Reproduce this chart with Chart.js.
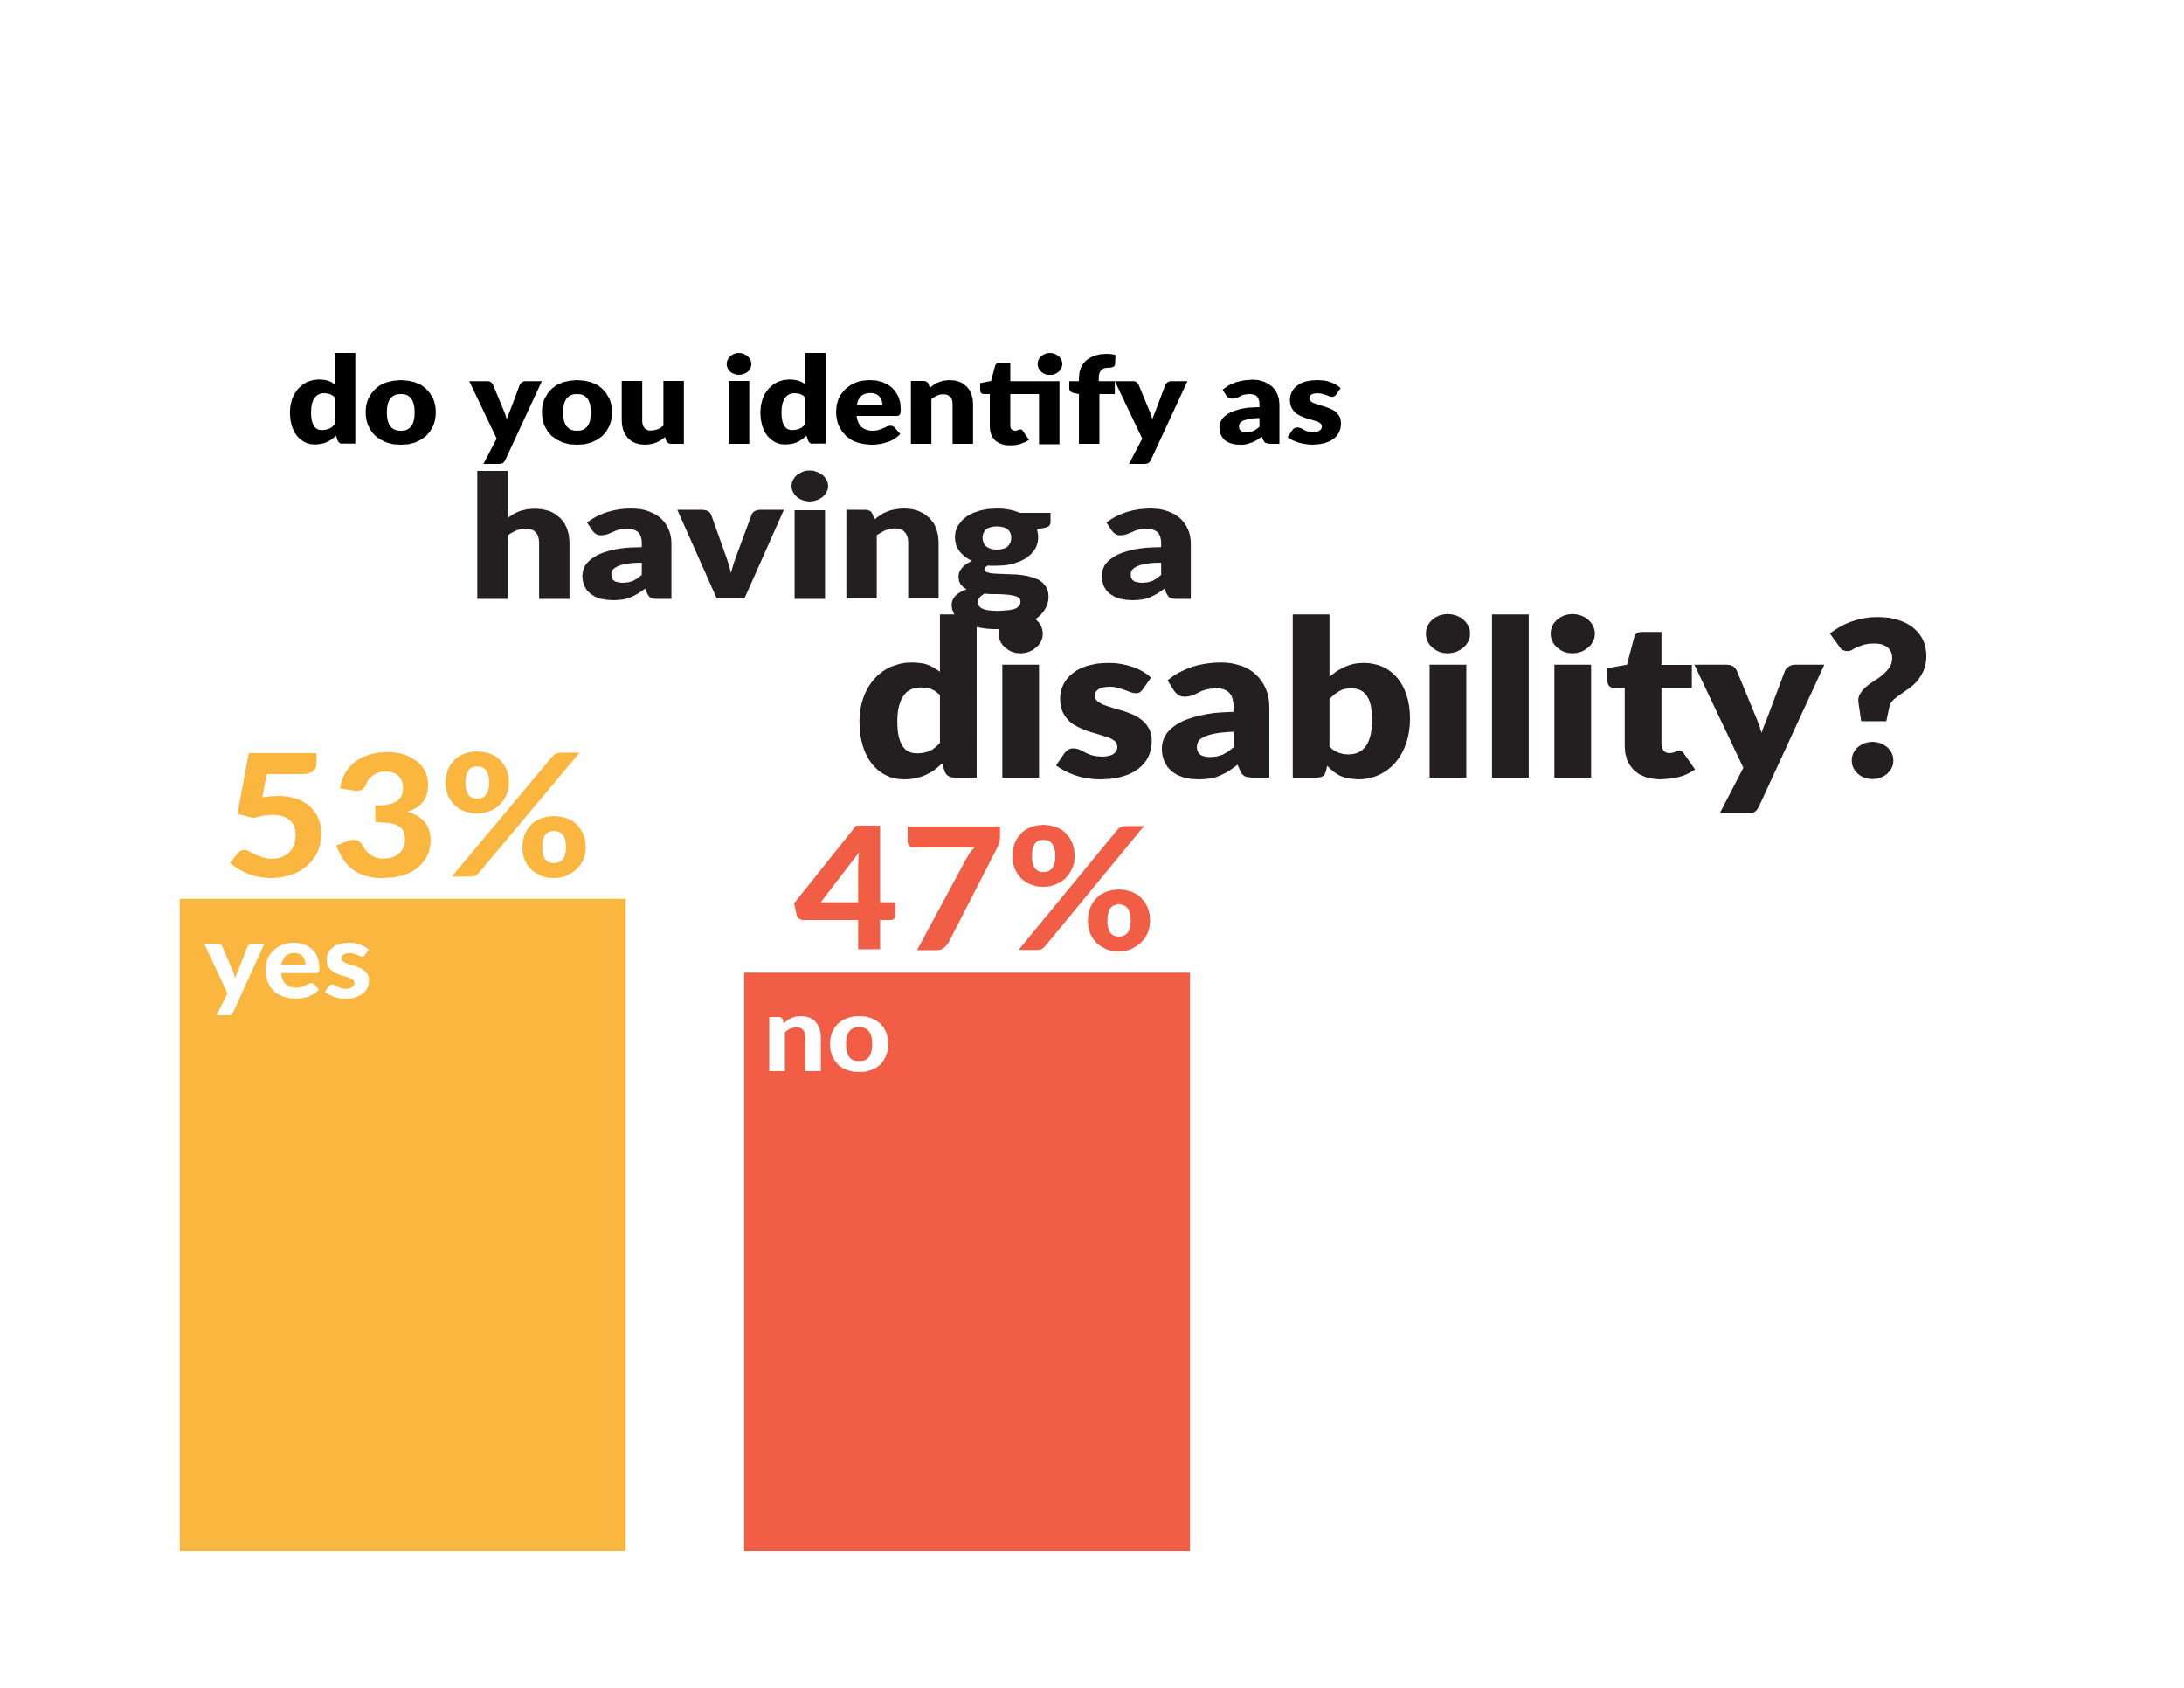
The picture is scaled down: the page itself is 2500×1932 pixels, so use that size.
<!DOCTYPE html>
<html>
<head>
<meta charset="utf-8">
<title>do you identify as having a disability?</title>
<script src="https://cdn.jsdelivr.net/npm/chart.js@4"></script>
<style>
    html, body { margin: 0; padding: 0; background: #fff; }
    #wrap { position: relative; width: 2500px; height: 1932px; }
</style>
</head>
<body>
<div id="wrap"><canvas id="chart"></canvas></div>
<script>
// data
const categories = ['yes', 'no'];
const values = [53, 47];
const titleLines = ['do you identify as', 'having a', 'disability?'];
const barColors = ['#FAB63E', '#F15E45'];

const FONT = 'Lato, "Noto Sans", sans-serif';

// draw text so the ink of refGlyph is glyphHeight tall, ink starts at left,
// squeezed/stretched to a given ink width (or by a stretch factor)
function fitText(ctx, text, opts) {
    ctx.save();
    ctx.font = `${opts.weight} 100px ${FONT}`;
    const ref = ctx.measureText(opts.refGlyph);
    const size = 100 * opts.glyphHeight / ref.actualBoundingBoxAscent;
    ctx.font = `${opts.weight} ${size}px ${FONT}`;
    ctx.textAlign = 'left';
    ctx.textBaseline = 'alphabetic';
    const m = ctx.measureText(text);
    const inkWidth = m.actualBoundingBoxLeft + m.actualBoundingBoxRight;
    const sx = opts.width ? opts.width / inkWidth : (opts.stretch || 1);
    ctx.translate(opts.left, opts.baseline);
    ctx.scale(sx, 1);
    ctx.fillStyle = opts.color;
    ctx.fillText(text, m.actualBoundingBoxLeft, 0);
    ctx.restore();
}

// headline, set in three growing lines
const headlinePlugin = {
    id: 'headline',
    afterDraw(chart) {
        const ctx = chart.ctx;
        const lines = [
            { left: 331, baseline: 508, glyphHeight: 104, width: 1205, color: '#000000' },
            { left: 546, baseline: 685, glyphHeight: 147, width: 818, color: '#231F20' },
            { left: 983, baseline: 890, glyphHeight: 187, width: 1223, color: '#231F20' }
        ];
        titleLines.forEach((text, i) => {
            fitText(ctx, text, Object.assign({ weight: 800, refGlyph: 'd' }, lines[i]));
        });
    }
};

// percentage above each bar and category name inside it
const barLabelPlugin = {
    id: 'barLabels',
    afterDatasetsDraw(chart) {
        const ctx = chart.ctx;
        const meta = chart.getDatasetMeta(0);
        meta.data.forEach((bar, i) => {
            const left = bar.x - bar.width / 2;
            fitText(ctx, values[i] + '%', {
                weight: 900, refGlyph: '4', glyphHeight: 140,
                left: left + 57, baseline: bar.y - 26, width: 408,
                color: barColors[i]
            });
            fitText(ctx, categories[i], {
                weight: 900, refGlyph: 'x', glyphHeight: 62,
                left: left + 28, baseline: bar.y + 113, stretch: 1.08,
                color: '#FFFFFF'
            });
        });
    }
};

function draw() {
    new Chart(document.getElementById('chart'), {
        type: 'bar',
        data: {
            labels: categories,
            datasets: [{
                data: values,
                backgroundColor: barColors,
                borderWidth: 0,
                barPercentage: 0.79,
                categoryPercentage: 1
            }]
        },
        options: {
            responsive: true,
            maintainAspectRatio: false,
            animation: false,
            layout: {
                padding: { left: 138, right: 1070, top: 367, bottom: 157 }
            },
            scales: {
                x: { display: false },
                y: { display: false, min: 0, max: 100 }
            },
            plugins: {
                legend: { display: false },
                tooltip: { enabled: false }
            }
        },
        plugins: [barLabelPlugin, headlinePlugin]
    });
}

Promise.all([
    document.fonts.load(`800 100px ${FONT}`),
    document.fonts.load(`900 100px ${FONT}`)
]).then(draw, draw);
</script>
</body>
</html>
